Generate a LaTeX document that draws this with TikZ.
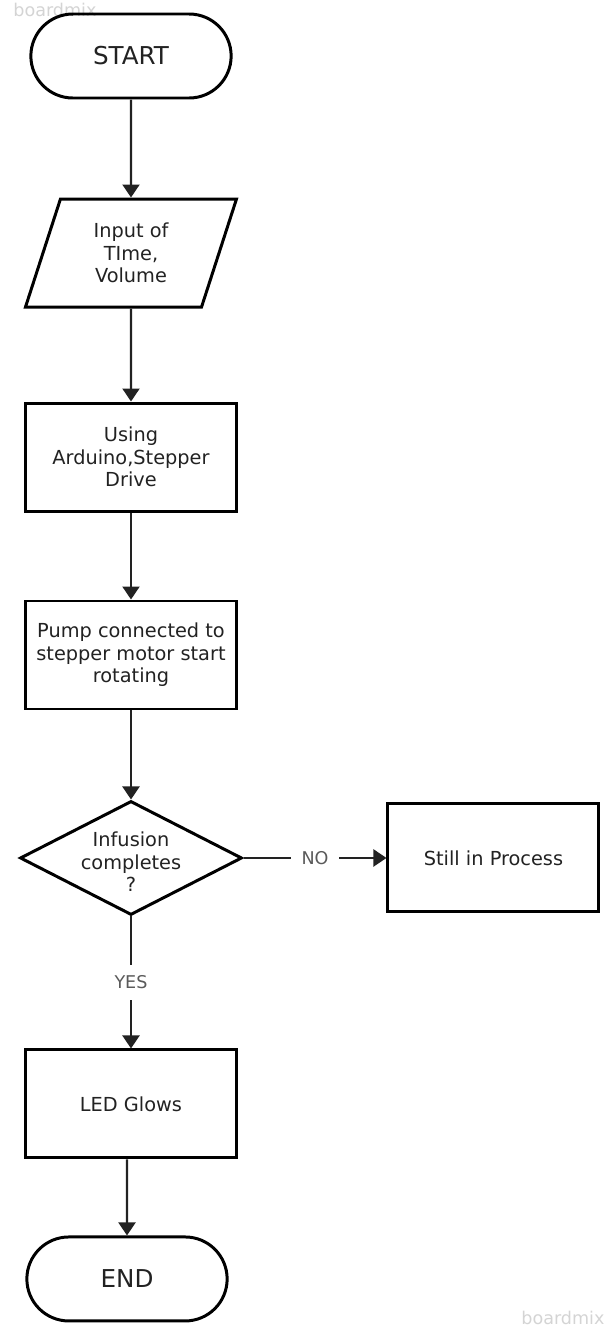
\documentclass[tikz,border=0pt]{standalone}
\usepackage{fontspec}
\setmainfont{DejaVu Sans}
\usetikzlibrary{positioning,shapes.geometric,shapes.misc,arrows.meta}

\definecolor{inkgray}{HTML}{222222}
\definecolor{lblgray}{HTML}{5A5A5A}
\definecolor{markgray}{HTML}{D4D4D4}

\begin{document}
\begin{tikzpicture}[>={Triangle[length=0.26cm,width=0.34cm]}]
        {

          \tikzstyle{term}=[rounded rectangle,draw=black,line width=1.7pt,text=inkgray,
                            minimum width=4.24cm,minimum height=1.68cm,font=\fontsize{14}{16}\selectfont]
          \tikzstyle{io}=[trapezium,trapezium left angle=64,trapezium right angle=116,
                          trapezium stretches body,draw=black,line width=1.7pt,text=inkgray,align=center,
                          minimum width=4.22cm,minimum height=2.16cm,font=\fontsize{11}{12.8}\selectfont]
          \tikzstyle{box}=[rectangle,draw=black,line width=1.7pt,text=inkgray,align=center,
                           minimum width=4.22cm,minimum height=2.16cm,inner sep=1pt,
                           font=\fontsize{11}{12.8}\selectfont]
          \tikzstyle{choice}=[diamond,draw=black,line width=1.7pt,inner sep=0pt,
                              minimum width=4.44cm,minimum height=2.28cm]
          \tikzstyle{flow}=[draw=inkgray,line width=1.2pt]
          \tikzstyle{lbl}=[fill=white,text=lblgray,inner sep=6pt,font=\fontsize{10}{12}\selectfont]
          \tikzstyle{wmark}=[text=markgray,inner sep=0pt,font=\fontsize{10}{12}\selectfont]
          \begin{scope}

            \useasboundingbox (0,0) rectangle (12.1,-26.52);

            \node [wmark,anchor=west] (wm1) at (0.26,-0.2) {boardmix};
            \node [wmark,anchor=south west] (wm2) at (10.42,-26.5) {boardmix};

            \node [term] (st) at (2.62,-1.12) {START};

            \node [io] (inp) [below=1.96cm of st] {Input of\\TIme,\\Volume}
            edge [flow,<-] (st);

            \node [box] (ard) [below=1.86cm of inp] {Using\\Arduino,Stepper\\Drive}
            edge [flow,<-] (inp);

            \node [box] (pump) [below=1.74cm of ard] {Pump connected to\\stepper motor start\\rotating}
            edge [flow,<-] (pump.north |- ard.south);

            \node [choice] (dec) [below=1.78cm of pump,
                   label={[align=center,text=inkgray,font=\fontsize{11}{12.8}\selectfont,yshift=-0.08cm]center:Infusion\\completes\\?}] {}
            edge [flow,<-] (pump);

            \node [box] (still) [right=2.86cm of dec] {Still in Process}
            edge [flow,<-] node [lbl] {NO} (dec);

            \node [box] (led) [below=2.64cm of dec] {LED Glows}
            edge [flow,<-] node [lbl] {YES} (dec);

            \node [term] (fin) [below=1.52cm of led,xshift=-0.08cm] {END}
            edge [flow,<-] (fin.north |- led.south);


          \end{scope}
        }
\end{tikzpicture}
\end{document}
